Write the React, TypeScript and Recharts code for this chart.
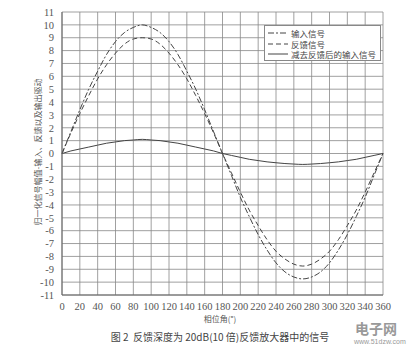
import React from 'react';
import { LineChart, Line, XAxis, YAxis, CartesianGrid, Legend } from 'recharts';

const phase = [
  0, 10, 20, 30, 40, 50, 60, 70, 80, 90, 100, 110, 120, 130, 140, 150, 160, 170, 180,
  190, 200, 210, 220, 230, 240, 250, 260, 270, 280, 290, 300, 310, 320, 330, 340, 350, 360,
];
const inputSignal = [
  0, 1.7, 3.4, 5, 6.4, 7.7, 8.7, 9.4, 9.8, 10, 9.8, 9.4, 8.7, 7.7, 6.4, 5, 3.4, 1.7, 0,
  -1.7, -3.4, -4.9, -6.3, -7.5, -8.5, -9.2, -9.6, -9.75, -9.6, -9.2, -8.5, -7.5, -6.3, -4.9, -3.4, -1.7, 0,
];
const feedbackSignal = [
  0, 1.6, 3.1, 4.5, 5.8, 6.9, 7.8, 8.5, 8.9, 9, 8.9, 8.5, 7.8, 6.9, 5.8, 4.5, 3.1, 1.6, 0,
  -1.5, -3, -4.4, -5.6, -6.7, -7.6, -8.2, -8.6, -8.75, -8.6, -8.2, -7.6, -6.7, -5.6, -4.4, -3, -1.5, 0,
];
const errorSignal = [
  0, 0.2, 0.35, 0.5, 0.65, 0.8, 0.9, 1, 1.05, 1.1, 1.05, 1, 0.9, 0.8, 0.65, 0.5, 0.35, 0.2, 0,
  -0.15, -0.3, -0.45, -0.55, -0.65, -0.72, -0.78, -0.82, -0.85, -0.82, -0.78, -0.72, -0.65, -0.55, -0.45, -0.3, -0.15, 0,
];
const xTicks = [0, 20, 40, 60, 80, 100, 120, 140, 160, 180, 200, 220, 240, 260, 280, 300, 320, 340, 360];
const yTicks = [-11, -10, -9, -8, -7, -6, -5, -4, -3, -2, -1, 0, 1, 2, 3, 4, 5, 6, 7, 8, 9, 10, 11];

const seriesNames = ['输入信号', '反馈信号', '减去反馈后的输入信号'];
const dashes = ['6 2 2 2', '5 3', undefined];

const data = phase.map((p, i) => ({
  phase: p,
  input: inputSignal[i],
  feedback: feedbackSignal[i],
  error: errorSignal[i],
}));

const serif = 'Liberation Serif, DejaVu Serif, serif';
const cjk = '"Noto Sans CJK SC", sans-serif';

const LegendBox = () => (
  <div
    style={{
      position: 'absolute',
      left: 264,
      top: 25,
      width: 117,
      height: 36,
      background: '#fff',
      border: '1px solid #888',
      boxSizing: 'border-box',
      padding: '2px 2px',
      fontFamily: cjk,
      fontSize: 8.5,
      color: '#444',
      lineHeight: '10.5px',
      whiteSpace: 'nowrap',
    }}
  >
    {seriesNames.map((name, i) => (
      <div key={name} style={{ display: 'flex', alignItems: 'center' }}>
        <svg width={24} height={10} style={{ flex: 'none' }}>
          <line x1={1} y1={5} x2={21} y2={5} stroke="#444" strokeWidth={1} strokeDasharray={dashes[i]} />
        </svg>
        <span>{name}</span>
      </div>
    ))}
  </div>
);

export default function App() {
  const tick = { fontSize: 10.5, fill: '#555', fontFamily: serif, style: { fontFamily: serif } };
  return (
    <div style={{ position: 'absolute', left: 0, top: 0, width: 416, height: 350, background: '#fff', fontFamily: serif }}>
      <LineChart width={416} height={350} data={data} margin={{ top: 12, right: 33, bottom: 35, left: 30 }} style={{ fontFamily: serif }}>
        <CartesianGrid stroke="#888" strokeWidth={0.8} />
        <XAxis
          dataKey="phase"
          type="number"
          domain={[0, 360]}
          ticks={xTicks}
          interval={0}
          height={20}
          tick={tick}
          tickLine={false}
          axisLine={{ stroke: '#666' }}
        />
        <YAxis
          type="number"
          domain={[-11, 11]}
          ticks={yTicks}
          interval={0}
          width={32}
          tick={tick}
          tickLine={false}
          axisLine={{ stroke: '#666' }}
        />
        <Legend content={() => null} />
        <Line dataKey="input" name={seriesNames[0]} stroke="#444" strokeWidth={1} strokeDasharray={dashes[0]} dot={false} type="monotone" isAnimationActive={false} />
        <Line dataKey="feedback" name={seriesNames[1]} stroke="#444" strokeWidth={1} strokeDasharray={dashes[1]} dot={false} type="monotone" isAnimationActive={false} />
        <Line dataKey="error" name={seriesNames[2]} stroke="#444" strokeWidth={1} dot={false} type="monotone" isAnimationActive={false} />
      </LineChart>
      <LegendBox />
      <div
        style={{
          position: 'absolute',
          left: 37,
          top: 152,
          transform: 'translate(-50%, -50%) rotate(-90deg)',
          whiteSpace: 'nowrap',
          fontFamily: cjk,
          fontSize: 8,
          color: '#555',
        }}
      >
        归一化信号幅值-输入、反馈以及输出驱动
      </div>
      <div
        style={{ position: 'absolute', left: 0, width: 440, top: 313, textAlign: 'center', fontFamily: cjk, fontSize: 8, color: '#555' }}
      >
        相位角(°)
      </div>
      <div
        style={{ position: 'absolute', left: 0, width: 440, top: 329, textAlign: 'center', fontFamily: cjk, fontSize: 10, color: '#444' }}
      >
        图 2&nbsp;&nbsp;反馈深度为 20dB(10 倍)反馈放大器中的信号
      </div>
      <div style={{ position: 'absolute', left: 355, top: 318, fontFamily: cjk, fontSize: 14, color: '#999', fontWeight: 700 }}>
        电子网
      </div>
      <div style={{ position: 'absolute', left: 354, top: 338, fontFamily: '"Liberation Sans", sans-serif', fontSize: 7, color: '#999' }}>
        www.51dzw.com
      </div>
    </div>
  );
}
